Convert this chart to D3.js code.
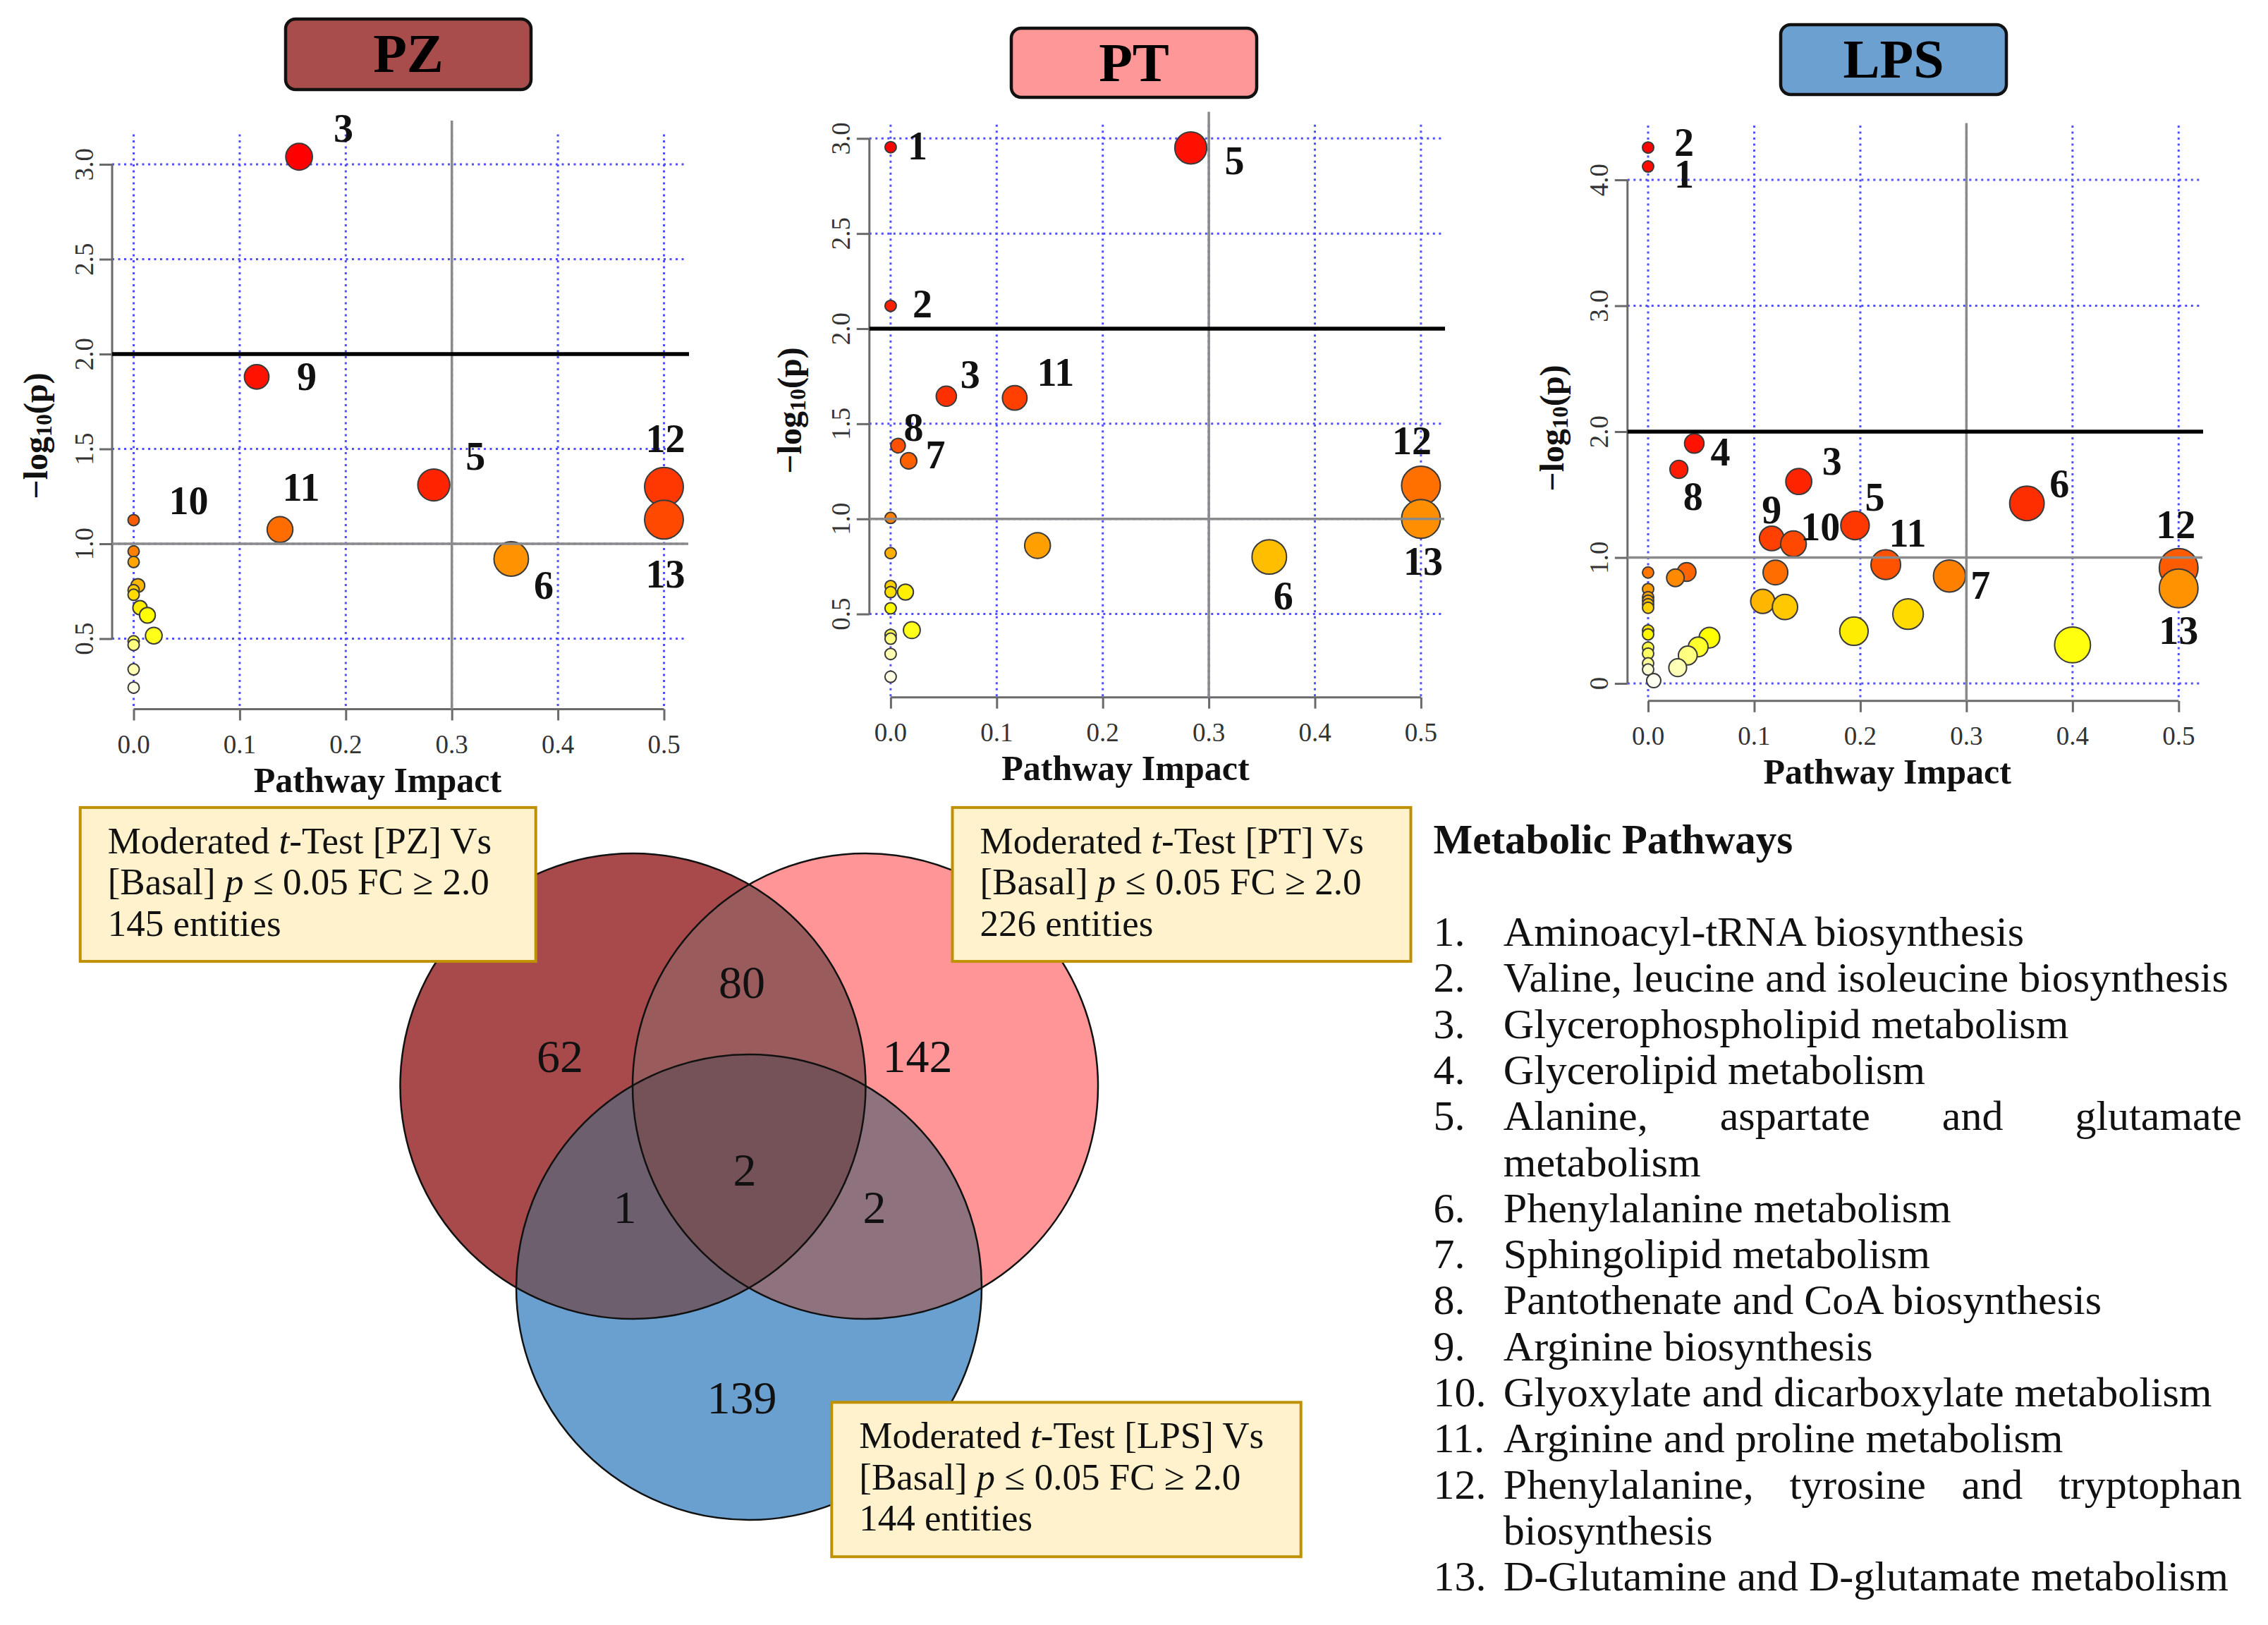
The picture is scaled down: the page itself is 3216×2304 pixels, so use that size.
<!DOCTYPE html>
<html><head><meta charset="utf-8">
<script src="https://cdn.jsdelivr.net/npm/d3@7"></script>
<style>body{margin:0;background:#fff} svg{display:block}</style>
</head><body>
<svg id="chart" width="3216" height="2304"></svg>
<script>
// ---------------- DATA ----------------
const xTickValues = [0, 0.1, 0.2, 0.3, 0.4, 0.5];
const xTickLabels = ["0.0", "0.1", "0.2", "0.3", "0.4", "0.5"];
const yTickValuesA = [0.5, 1.0, 1.5, 2.0, 2.5, 3.0];
const yTickLabelsA = ["0.5", "1.0", "1.5", "2.0", "2.5", "3.0"];
const yTickValuesLPS = [0, 1, 2, 3, 4];
const yTickLabelsLPS = ["0", "1.0", "2.0", "3.0", "4.0"];

const pzImpact = [0.156, 0.116, 0.283, 0.5, 0.5, 0.138, 0.356, 0, 0, 0, 0.004, 0, 0, 0.006, 0.013, 0.019, 0, 0, 0, 0];
const pzLogP   = [3.04, 1.88, 1.31, 1.30, 1.127, 1.075, 0.92, 1.125, 0.96, 0.904, 0.78, 0.756, 0.731, 0.663, 0.623, 0.516, 0.486, 0.467, 0.338, 0.242];
const pzLabels = ["3", "9", "5", "12", "13", "11", "6", "10", "", "", "", "", "", "", "", "", "", "", "", ""];

const ptImpact = [0, 0.283, 0, 0.0525, 0.117, 0.007, 0.017, 0.5, 0.5, 0.357, 0, 0, 0.1385, 0, 0, 0.014, 0, 0.02, 0, 0, 0, 0];
const ptLogP   = [2.954, 2.95, 2.12, 1.645, 1.636, 1.385, 1.305, 1.175, 1.0, 0.80, 1.005, 0.82, 0.86, 0.647, 0.615, 0.615, 0.53, 0.415, 0.39, 0.37, 0.29, 0.17];
const ptLabels = ["1", "5", "2", "3", "11", "8", "7", "12", "13", "6", "", "", "", "", "", "", "", "", "", "", "", ""];

const lpsImpact = [0, 0, 0.0435, 0.029, 0.142, 0.357, 0.195, 0.1165, 0.137, 0.224, 0.5, 0.5, 0.284,
                   0.12, 0.0363, 0.0257, 0, 0, 0, 0, 0, 0, 0.108, 0.129, 0.245, 0.194, 0.40,
                   0, 0, 0, 0, 0, 0, 0.0053, 0.0578, 0.0472, 0.0374, 0.0279];
const lpsLogP   = [4.106, 4.257, 1.906, 1.70, 1.604, 1.43, 1.255, 1.152, 1.109, 0.943, 0.918, 0.755, 0.853,
                   0.881, 0.885, 0.839, 0.881, 0.75, 0.685, 0.657, 0.629, 0.601, 0.652, 0.607, 0.551, 0.415, 0.306,
                   0.42, 0.39, 0.284, 0.237, 0.159, 0.11, 0.022, 0.364, 0.29, 0.222, 0.125];
const lpsLabels = ["1", "2", "4", "8", "3", "6", "5", "9", "10", "11", "12", "13", "7",
                   "", "", "", "", "", "", "", "", "", "", "", "", "", "", "", "", "", "", "", "", "", "", "", "", ""];

const vennRegions = ["PZ", "PT", "LPS", "PZ&PT", "PZ&LPS", "PT&LPS", "PZ&PT&LPS"];
const vennCounts  = [62, 142, 139, 80, 1, 2, 2];
const setNames    = ["PZ", "PT", "LPS"];
const setEntities = [145, 226, 144];

const pathwayNames = [
  "Aminoacyl-tRNA biosynthesis",
  "Valine, leucine and isoleucine biosynthesis",
  "Glycerophospholipid metabolism",
  "Glycerolipid metabolism",
  "Alanine, aspartate and glutamate\nmetabolism",
  "Phenylalanine metabolism",
  "Sphingolipid metabolism",
  "Pantothenate and CoA biosynthesis",
  "Arginine biosynthesis",
  "Glyoxylate and dicarboxylate metabolism",
  "Arginine and proline metabolism",
  "Phenylalanine, tyrosine and tryptophan\nbiosynthesis",
  "D-Glutamine and D-glutamate metabolism"
];

// ---------------- LAYOUT / STYLE ----------------
const SERIF = "'Liberation Serif', 'Times New Roman', serif";
const svg = d3.select("#chart");
svg.append("rect").attr("width", 3216).attr("height", 2304).attr("fill", "#fff");

const panels = [
  { name: "PZ", fill: "#A94C4C", box: [405, 27, 348, 100],
    impact: pzImpact, logp: pzLogP, labels: pzLabels,
    xRange: [189.5, 941.5], yDomain: [1, 3], yRange: [771, 233],
    yTicks: yTickValuesA, yTickLabels: yTickLabelsA,
    left: 159, right: 974, top: 190.5, bottom: 1005.5, vTop: 171,
    yTitle: [50, 618], xTitleDx: -30,
    offsets: { "3": [63, -40], "9": [71, 0], "5": [59, -41], "12": [2, -68], "13": [2, 77], "11": [30, -60], "10": [78, -27], "6": [46, 37] } },
  { name: "PT", fill: "#FE9797", box: [1434, 40, 348, 98],
    impact: ptImpact, logp: ptLogP, labels: ptLabels,
    xRange: [1262.9, 2014.9], yDomain: [1, 3], yRange: [735.7, 196.3],
    yTicks: yTickValuesA, yTickLabels: yTickLabelsA,
    left: 1232.8, right: 2046, top: 176.7, bottom: 988.7, vTop: 158.5,
    yTitle: [1119, 582], xTitleDx: -43,
    offsets: { "1": [38, -2], "5": [62, 18], "2": [45, -3], "3": [34, -31], "11": [58, -36], "8": [22, -26], "7": [38, -8], "12": [-13, -64], "13": [3, 60], "6": [20, 55] } },
  { name: "LPS", fill: "#6CA0D0", box: [2525, 35, 320, 99],
    impact: lpsImpact, logp: lpsLogP, labels: lpsLabels,
    xRange: [2337, 3089.3], yDomain: [0, 4], yRange: [969, 255],
    yTicks: yTickValuesLPS, yTickLabels: yTickLabelsLPS,
    left: 2307.8, right: 3121, top: 178, bottom: 993.8, vTop: 174.5,
    yTitle: [2200, 607], xTitleDx: -37,
    offsets: { "2": [51, -7], "1": [51, 11], "4": [37, 12], "8": [20, 38], "3": [47, -29], "6": [46, -28], "5": [28, -40], "9": [0, -40], "10": [38, -24], "11": [31, -45], "12": [-4, -61], "13": [0, 60], "7": [44, 13] } }
];

// R heat.colors(n)
function heatColors(n) {
  const j = Math.floor(n / 4), i = n - j, out = [];
  for (let k = 0; k < i; k++) {
    const h = i > 1 ? (k / (i - 1)) / 6 : 0;
    out.push(d3.hsl(h * 360, 1, 0.5).formatHex());
  }
  for (let k = 0; k < j; k++) {
    const s0 = 1 - 1 / (2 * j), s1 = 1 / (2 * j);
    const s = j > 1 ? s0 + k * (s1 - s0) / (j - 1) : s0;
    out.push(d3.rgb(255, 255, Math.round(255 * (1 - s))).formatHex());
  }
  return out;
}

panels.forEach(p => {
  const g = svg.append("g");
  const x = d3.scaleLinear().domain([0, 0.5]).range(p.xRange);
  const y = d3.scaleLinear().domain(p.yDomain).range(p.yRange);
  const r = d3.scaleSqrt().domain([0, 0.5]).range([8, 27.5]);

  // title box
  g.append("rect").attr("x", p.box[0]).attr("y", p.box[1]).attr("width", p.box[2]).attr("height", p.box[3])
    .attr("rx", 14).attr("fill", p.fill).attr("stroke", "#111").attr("stroke-width", 4.5);
  g.append("text").attr("x", p.box[0] + p.box[2] / 2).attr("y", p.box[1] + 75)
    .attr("text-anchor", "middle").attr("font-family", SERIF).attr("font-weight", "bold")
    .attr("font-size", 78).attr("fill", "#000").text(p.name);

  // dotted grid
  const dot = { stroke: "#4f4fff", w: 3, dash: "3,5.5" };
  g.selectAll(".vg").data(xTickValues).join("line")
    .attr("x1", d => x(d)).attr("x2", d => x(d)).attr("y1", p.top).attr("y2", p.bottom)
    .attr("stroke", dot.stroke).attr("stroke-width", dot.w).attr("stroke-dasharray", dot.dash);
  g.selectAll(".hg").data(p.yTicks).join("line")
    .attr("x1", p.left).attr("x2", p.right).attr("y1", d => y(d)).attr("y2", d => y(d))
    .attr("stroke", dot.stroke).attr("stroke-width", dot.w).attr("stroke-dasharray", dot.dash);

  // axes (R style: lines spanning tick range only)
  const yAxis = d3.axisLeft(y).tickValues(p.yTicks).tickSize(18).tickFormat(() => "");
  const ya = g.append("g").attr("transform", `translate(${p.left},0)`).call(yAxis);
  ya.select(".domain").remove();
  ya.selectAll(".tick line").attr("stroke", "#6a6a6a").attr("stroke-width", 3);
  const yExt = d3.extent(p.yTicks);
  g.append("line").attr("x1", p.left).attr("x2", p.left).attr("y1", y(yExt[0])).attr("y2", y(yExt[1]))
    .attr("stroke", "#6a6a6a").attr("stroke-width", 3);
  g.selectAll(".ytl").data(p.yTicks).join("text")
    .attr("transform", (d) => `translate(${p.left - 40},${y(d)}) rotate(-90)`)
    .attr("text-anchor", "middle").attr("dominant-baseline", "central")
    .attr("font-family", SERIF).attr("font-size", 37).attr("fill", "#333")
    .text((d, i) => p.yTickLabels[i]);

  const xAxis = d3.axisBottom(x).tickValues(xTickValues).tickSize(16).tickFormat(() => "");
  const xa = g.append("g").attr("transform", `translate(0,${p.bottom})`).call(xAxis);
  xa.select(".domain").remove();
  xa.selectAll(".tick line").attr("stroke", "#6a6a6a").attr("stroke-width", 3);
  g.append("line").attr("x1", x(0)).attr("x2", x(0.5)).attr("y1", p.bottom).attr("y2", p.bottom)
    .attr("stroke", "#6a6a6a").attr("stroke-width", 3);
  g.selectAll(".xtl").data(xTickValues).join("text")
    .attr("x", d => x(d)).attr("y", p.bottom + 50)
    .attr("text-anchor", "middle").attr("dominant-baseline", "central")
    .attr("font-family", SERIF).attr("font-size", 37).attr("fill", "#333")
    .text((d, i) => xTickLabels[i]);

  // axis titles
  g.append("text").attr("x", (x(0) + x(0.5)) / 2 + p.xTitleDx).attr("y", p.bottom + 100)
    .attr("text-anchor", "middle").attr("dominant-baseline", "central")
    .attr("font-family", SERIF).attr("font-weight", "bold").attr("font-size", 50).attr("fill", "#111")
    .text("Pathway Impact");
  const yt = g.append("text").attr("transform", `translate(${p.yTitle[0]},${p.yTitle[1]}) rotate(-90)`)
    .attr("text-anchor", "middle").attr("dominant-baseline", "central")
    .attr("font-family", SERIF).attr("font-weight", "bold").attr("font-size", 48).attr("fill", "#111");
  yt.append("tspan").text("\u2212log");
  yt.append("tspan").attr("font-size", 32).attr("dy", 12).text("10");
  yt.append("tspan").attr("dy", -12).text("(p)");

  // points with heat colours by rank of -log10(p)
  const n = p.logp.length;
  const pal = heatColors(n);
  const order = d3.range(n).sort((a, b) => p.logp[b] - p.logp[a]);
  const col = new Array(n);
  order.forEach((idx, rank) => col[idx] = pal[rank]);
  const pts = d3.range(n).map(i => ({ x: p.impact[i], y: p.logp[i], lab: p.labels[i], c: col[i] }));

  g.selectAll(".pt").data(pts).join("circle")
    .attr("cx", d => x(d.x)).attr("cy", d => y(d.y)).attr("r", d => r(d.x))
    .attr("fill", d => d.c).attr("stroke", "#3a3a3a").attr("stroke-width", 2);

  // threshold lines
  g.append("line").attr("x1", p.left).attr("x2", p.right + 2).attr("y1", y(1)).attr("y2", y(1))
    .attr("stroke", "#8a8a8a").attr("stroke-width", 3.5);
  g.append("line").attr("x1", x(0.3)).attr("x2", x(0.3)).attr("y1", p.vTop).attr("y2", p.bottom)
    .attr("stroke", "#8a8a8a").attr("stroke-width", 3.5);
  g.append("line").attr("x1", p.left).attr("x2", p.right + 3).attr("y1", y(2)).attr("y2", y(2))
    .attr("stroke", "#000").attr("stroke-width", 5.5);

  // point labels
  g.selectAll(".pl").data(pts.filter(d => d.lab)).join("text")
    .attr("x", d => x(d.x) + p.offsets[d.lab][0]).attr("y", d => y(d.y) + p.offsets[d.lab][1])
    .attr("text-anchor", "middle").attr("dominant-baseline", "central")
    .attr("font-family", SERIF).attr("font-weight", "bold").attr("font-size", 56).attr("fill", "#111")
    .text(d => d.lab);
});

// ---------------- VENN ----------------
const vennCircles = { PZ: [897.5, 1540], PT: [1227, 1540], LPS: [1062, 1825] };
const vennR = 330;
const regionFill = { "PZ": "#A84A4B", "PT": "#FF9596", "LPS": "#6AA0CF",
  "PZ&PT": "#9A5B5C", "PZ&LPS": "#6E5F6E", "PT&LPS": "#8E737E", "PZ&PT&LPS": "#745257" };
const regionPos = { "PZ": [794, 1497], "PT": [1301, 1497], "LPS": [1052, 1981],
  "PZ&PT": [1052, 1392], "PZ&LPS": [886, 1711], "PT&LPS": [1240, 1711], "PZ&PT&LPS": [1056, 1658] };

const defs = svg.append("defs");
setNames.forEach(s => {
  defs.append("clipPath").attr("id", "clip" + s).append("circle")
    .attr("cx", vennCircles[s][0]).attr("cy", vennCircles[s][1]).attr("r", vennR);
});
const vg = svg.append("g");
function vcircle(parent, s, fill) {
  parent.append("circle").attr("cx", vennCircles[s][0]).attr("cy", vennCircles[s][1]).attr("r", vennR).attr("fill", fill);
}
vcircle(vg, "PZ", regionFill["PZ"]);
vcircle(vg, "PT", regionFill["PT"]);
vcircle(vg.append("g").attr("clip-path", "url(#clipPZ)"), "PT", regionFill["PZ&PT"]);
vcircle(vg, "LPS", regionFill["LPS"]);
vcircle(vg.append("g").attr("clip-path", "url(#clipPZ)"), "LPS", regionFill["PZ&LPS"]);
vcircle(vg.append("g").attr("clip-path", "url(#clipPT)"), "LPS", regionFill["PT&LPS"]);
vcircle(vg.append("g").attr("clip-path", "url(#clipPZ)").append("g").attr("clip-path", "url(#clipPT)"), "LPS", regionFill["PZ&PT&LPS"]);
vg.selectAll(".vo").data(setNames).join("circle")
  .attr("cx", s => vennCircles[s][0]).attr("cy", s => vennCircles[s][1]).attr("r", vennR)
  .attr("fill", "none").attr("stroke", "#111").attr("stroke-width", 2.5);
vg.selectAll(".vt").data(vennRegions).join("text")
  .attr("x", d => regionPos[d][0]).attr("y", d => regionPos[d][1])
  .attr("text-anchor", "middle").attr("dominant-baseline", "central")
  .attr("font-family", SERIF).attr("font-size", 66).attr("fill", "#111")
  .text((d, i) => vennCounts[i]);

// info boxes
const boxPos = { PZ: [113.7, 1144.9, 646, 218.2], PT: [1350.5, 1144.9, 650, 218.2], LPS: [1179.3, 1988.3, 665.4, 218.9] };
setNames.forEach((s, i) => {
  const b = boxPos[s];
  const bg = svg.append("g");
  bg.append("rect").attr("x", b[0]).attr("y", b[1]).attr("width", b[2]).attr("height", b[3])
    .attr("fill", "#FFF2CC").attr("stroke", "#BF9000").attr("stroke-width", 4);
  const tx = b[0] + 39;
  const t1 = bg.append("text").attr("x", tx).attr("y", b[1] + 65).attr("font-family", SERIF).attr("font-size", 53).attr("fill", "#111");
  t1.append("tspan").text("Moderated ");
  t1.append("tspan").attr("font-style", "italic").text("t");
  t1.append("tspan").text(`-Test [${s}] Vs`);
  const t2 = bg.append("text").attr("x", tx).attr("y", b[1] + 123.5).attr("font-family", SERIF).attr("font-size", 53).attr("fill", "#111");
  t2.append("tspan").text("[Basal] ");
  t2.append("tspan").attr("font-style", "italic").text("p");
  t2.append("tspan").text(" \u2264 0.05 FC \u2265 2.0");
  bg.append("text").attr("x", tx).attr("y", b[1] + 182).attr("font-family", SERIF).attr("font-size", 53).attr("fill", "#111")
    .text(`${setEntities[i]} entities`);
});

// ---------------- LEGEND ----------------
const lg = svg.append("g");
const legX = 2032.6, legTextX = 2131.8, legRight = 3179, legTop = 1341, legStep = 65.3, legFS = 60;
lg.append("text").attr("x", legX).attr("y", 1210).attr("font-family", SERIF).attr("font-weight", "bold")
  .attr("font-size", 59).attr("fill", "#111").text("Metabolic Pathways");

function measure(str) {
  const t = lg.append("text").attr("font-family", SERIF).attr("font-size", legFS).text(str);
  const w = t.node().getComputedTextLength(); t.remove(); return w;
}
let row = 0;
pathwayNames.forEach((name, i) => {
  const lines = name.split("\n");
  lg.append("text").attr("x", legX).attr("y", legTop + row * legStep).attr("font-family", SERIF)
    .attr("font-size", legFS).attr("fill", "#111").text(`${i + 1}.`);
  lines.forEach((ln, li) => {
    const yy = legTop + row * legStep;
    if (li < lines.length - 1) {
      const words = ln.split(" ");
      const ws = words.map(measure);
      const gap = (legRight - legTextX - d3.sum(ws)) / (words.length - 1);
      let cx = legTextX;
      words.forEach((w, k) => {
        lg.append("text").attr("x", cx).attr("y", yy).attr("font-family", SERIF).attr("font-size", legFS)
          .attr("fill", "#111").text(w);
        cx += ws[k] + gap;
      });
    } else {
      lg.append("text").attr("x", legTextX).attr("y", yy).attr("font-family", SERIF).attr("font-size", legFS)
        .attr("fill", "#111").text(ln);
    }
    row++;
  });
});
</script>
</body></html>
